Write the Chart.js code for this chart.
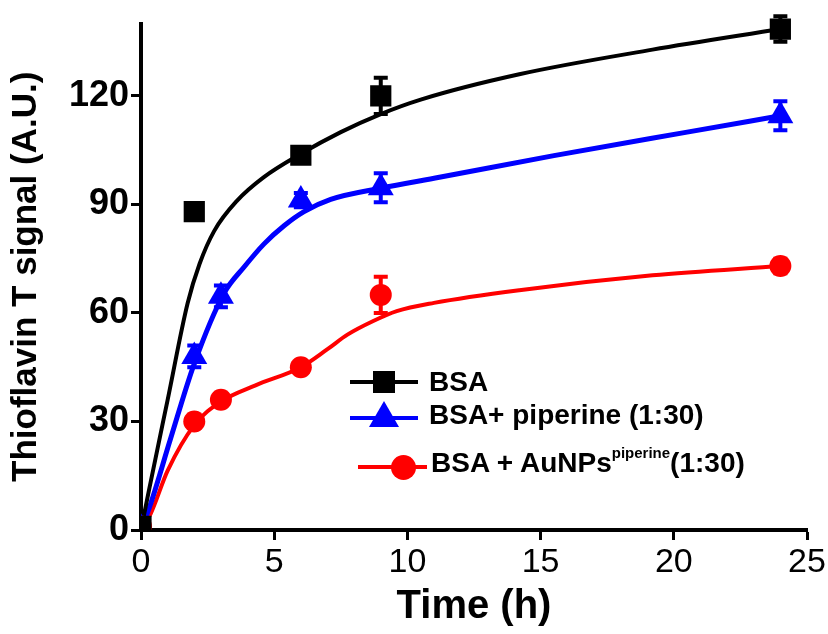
<!DOCTYPE html>
<html>
<head>
<meta charset="utf-8">
<script src="https://cdn.jsdelivr.net/npm/chart.js@4/dist/chart.umd.min.js"></script>
<style>
  body { margin: 0; background: #fff; }
  #wrap { position: relative; width: 828px; height: 634px; font-family: "Liberation Sans", Arial, sans-serif; }
  .leg-line { position: absolute; height: 4px; }
  .leg-text { position: absolute; font-size: 28px; font-weight: bold; line-height: 28px; white-space: nowrap; color: #000; }
  .leg-text sup { font-size: 15px; position: relative; top: -14px; vertical-align: baseline; }
</style>
</head>
<body>
<div id="wrap">
  <canvas id="tftChart" width="828" height="634"></canvas>

  <!-- legend, drawn in html so the superscript stays real text -->
  <div class="leg-line" style="left:350px; top:380px; width:68px; background:#000;"></div>
  <div style="position:absolute; left:373px; top:371px; width:22px; height:22px; background:#000;"></div>
  <div class="leg-text" style="left:429px; top:368px;">BSA</div>

  <div class="leg-line" style="left:350px; top:416px; width:68px; background:#0000ff;"></div>
  <div style="position:absolute; left:369px; top:401px; width:0; height:0; border-left:15px solid transparent; border-right:15px solid transparent; border-bottom:26px solid #0000ff;"></div>
  <div class="leg-text" style="left:429px; top:401px;">BSA+ piperine (1:30)</div>

  <div class="leg-line" style="left:358px; top:465px; width:69px; background:#ff0000;"></div>
  <div style="position:absolute; left:391px; top:455px; width:25px; height:25px; border-radius:50%; background:#ff0000;"></div>
  <div class="leg-text" style="left:431px; top:449px;">BSA + AuNPs<sup>piperine</sup>(1:30)</div>
</div>

<script>
// measured points (time in h, ThT signal)
const bsaTime = [0, 2, 6, 9, 24];
const bsaMean = [1, 88, 103.6, 120, 138.5];
const bsaErr  = [0, 1.5, 2, 5, 3.5];

const pipTime = [0, 2, 3, 6, 9, 24];
const pipMean = [0.5, 48, 64.6, 91.2, 94.6, 114.5];
const pipErr  = [0, 3, 3, 2, 4, 4];

const aunTime = [0, 2, 3, 6, 9, 24];
const aunMean = [1, 30, 36, 45, 65, 73];
const aunErr  = [0, 1, 1, 1, 5, 2];

// fitted curves
const bsaFitT = [0, 0.3, 1.0, 1.75, 2.2, 2.75, 3.6, 4.6, 6, 7.5, 9, 10.5, 14.2, 19.2, 24];
const bsaFitV = [0, 11, 36, 62.7, 73.6, 82.7, 91, 97.5, 104, 110, 115, 119, 126, 132.8, 138.5];

const pipFitT = [0, 0.37, 1.1, 2, 3.12, 3.87, 4.62, 5.37, 6.12, 7.12, 9, 11.2, 15.5, 20.5, 24];
const pipFitV = [0, 7.4, 25, 46, 65.5, 72.7, 79.1, 84.1, 88, 91.4, 94.5, 97.5, 103.5, 110, 114.5];

const aunFitT = [0, 0.37, 1, 2, 3, 4.3, 6, 7, 7.75, 8.7, 9.6, 11, 14.2, 19.2, 24];
const aunFitV = [0, 4.6, 16.4, 29, 35.5, 40, 45, 50, 54, 57.7, 60.5, 62.8, 66.3, 70.4, 73];

const xTicks = [0, 5, 10, 15, 20, 25];
const yTicks = [0, 30, 60, 90, 120];

const FONT = '"Liberation Sans", Arial, sans-serif';

function pts(xs, ys) {
    return xs.map((x, i) => ({ x: x, y: ys[i] }));
}

// vertical error bars with caps, positioned through the chart scales
const errorBars = {
    id: 'errorBars',
    afterDatasetsDraw(chart) {
        const ctx = chart.ctx;
        const xs = chart.scales.x, ys = chart.scales.y;
        chart.data.datasets.forEach((ds) => {
            if (!ds.errors) return;
            ctx.save();
            ctx.strokeStyle = ds.backgroundColor;
            ctx.lineWidth = 4;
            ds.data.forEach((p, i) => {
                const e = ds.errors[i];
                if (!e) return;
                const px = xs.getPixelForValue(p.x);
                const top = ys.getPixelForValue(p.y + e);
                const bot = ys.getPixelForValue(p.y - e);
                ctx.beginPath();
                ctx.moveTo(px, top); ctx.lineTo(px, bot);
                ctx.moveTo(px - 7, top); ctx.lineTo(px + 7, top);
                ctx.moveTo(px - 7, bot); ctx.lineTo(px + 7, bot);
                ctx.stroke();
            });
            ctx.restore();
        });
    }
};

const markerBase = { showLine: false, borderWidth: 0, order: 0, clip: { left: 0, bottom: 0, top: 20, right: 20 } };
const fitBase = { showLine: true, pointRadius: 0, borderWidth: 4, fill: false, cubicInterpolationMode: 'monotone', order: 1, clip: { left: 0, bottom: 0, top: 20, right: 20 } };

new Chart(document.getElementById('tftChart'), {
    type: 'scatter',
    data: {
        datasets: [
            Object.assign({}, markerBase, { label: 'BSA', data: pts(bsaTime, bsaMean), errors: bsaErr,
                pointStyle: 'rect', pointRadius: 15, backgroundColor: '#000000', borderColor: '#000000' }),
            Object.assign({}, markerBase, { label: 'BSA+ piperine (1:30)', data: pts(pipTime, pipMean), errors: pipErr,
                pointStyle: 'triangle', pointRadius: 15, backgroundColor: '#0000ff', borderColor: '#0000ff' }),
            Object.assign({}, markerBase, { label: 'BSA + AuNPs piperine (1:30)', data: pts(aunTime, aunMean), errors: aunErr,
                pointStyle: 'circle', pointRadius: 11, backgroundColor: '#ff0000', borderColor: '#ff0000' }),
            Object.assign({}, fitBase, { label: 'BSA fit', data: pts(bsaFitT, bsaFitV), borderColor: '#000000' }),
            Object.assign({}, fitBase, { label: 'piperine fit', data: pts(pipFitT, pipFitV), borderColor: '#0000ff', borderWidth: 5 }),
            Object.assign({}, fitBase, { label: 'AuNPs fit', data: pts(aunFitT, aunFitV), borderColor: '#ff0000' })
        ]
    },
    options: {
        responsive: false,
        animation: false,
        layout: { padding: { top: 16, right: 21, bottom: 0, left: 0 } },
        plugins: { legend: { display: false }, tooltip: { enabled: false } },
        scales: {
            x: {
                type: 'linear', min: 0, max: 25,
                afterBuildTicks: (axis) => { axis.ticks = xTicks.map(v => ({ value: v })); },
                afterFit: (scale) => { scale.height = 104; },
                border: { display: true, color: '#000', width: 4 },
                grid: { drawOnChartArea: false, drawTicks: true, tickLength: 10, tickWidth: 3, color: '#000' },
                ticks: { color: '#000', padding: 2, maxRotation: 0, font: { family: FONT, size: 34 } },
                title: { display: true, text: 'Time (h)', color: '#000', padding: { top: 0, bottom: 3 },
                    font: { family: FONT, size: 40, weight: 'bold' } }
            },
            y: {
                type: 'linear', min: 0, max: 140,
                afterBuildTicks: (axis) => { axis.ticks = yTicks.map(v => ({ value: v })); },
                afterFit: (scale) => { scale.width = 141; },
                border: { display: true, color: '#000', width: 4 },
                grid: { drawOnChartArea: false, drawTicks: true, tickLength: 10, tickWidth: 3, color: '#000' },
                ticks: { color: '#000', padding: 2, font: { family: FONT, size: 36, weight: 'bold' } },
                title: { display: true, text: 'Thioflavin T signal (A.U.)', color: '#000', padding: { top: 5, bottom: 0 },
                    font: { family: FONT, size: 35, weight: 'bold' } }
            }
        }
    },
    plugins: [errorBars]
});
</script>
</body>
</html>
